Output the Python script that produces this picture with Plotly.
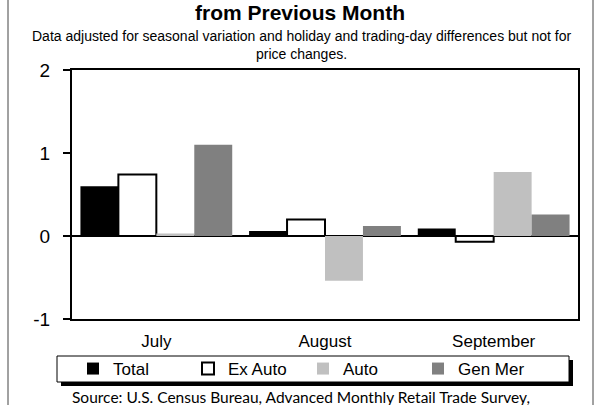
import plotly.graph_objects as go

months = ["July", "August", "September"]
total = [0.60, 0.06, 0.09]
ex_auto = [0.74, 0.20, -0.07]
auto = [0.03, -0.54, 0.77]
gen_mer = [1.10, 0.12, 0.26]
y_ticks = [-1, 0, 1, 2]

W, H = 608, 405
L, R, T, B = 72, 30, 70, 86
pw, ph = W - L - R, H - T - B


def px(x):
    return (x - L) / pw


def py(y):
    return (H - B - y) / ph


fig = go.Figure()
fig.add_bar(name="Total", x=months, y=total, marker=dict(color="black", line=dict(width=0)))
fig.add_bar(name="Ex Auto", x=months, y=ex_auto,
            marker=dict(color="white", line=dict(color="black", width=2)))
fig.add_bar(name="Auto", x=months, y=auto, marker=dict(color="#c0c0c0", line=dict(width=0)))
fig.add_bar(name="Gen Mer", x=months, y=gen_mer, marker=dict(color="#808080", line=dict(width=0)))

shapes = [
    # outer frame
    dict(type="rect", xref="paper", yref="paper", x0=px(8), x1=px(593), y0=py(420), y1=py(-10),
         line=dict(color="#444444", width=1), fillcolor="rgba(0,0,0,0)", layer="below"),
    # legend shadow
    dict(type="rect", xref="paper", yref="paper", x0=px(61), x1=px(573), y0=py(386), y1=py(360),
         line=dict(width=0), fillcolor="black", layer="below"),
    # legend box
    dict(type="rect", xref="paper", yref="paper", x0=px(57), x1=px(569), y0=py(382), y1=py(356),
         line=dict(color="black", width=1), fillcolor="white", layer="below"),
]

annotations = [
    dict(text="<b>from Previous Month</b>", x=px(300), y=py(12), xref="paper", yref="paper",
         showarrow=False, xanchor="center", yanchor="middle",
         font=dict(family="Liberation Sans, Arial", size=21, color="black")),
    dict(text="Data adjusted for seasonal variation and holiday and trading-day differences but not for<br>price changes.",
         x=px(301), y=py(44.5), xref="paper", yref="paper", showarrow=False,
         xanchor="center", yanchor="middle",
         font=dict(family="Liberation Sans, Arial", size=14, color="black")),
    dict(text="Source: U.S. Census Bureau, Advanced Monthly Retail Trade Survey,",
         x=px(301), y=py(397), xref="paper", yref="paper", showarrow=False,
         xanchor="center", yanchor="middle",
         font=dict(family="Lato, Open Sans", size=15.5, color="black")),
]

fig.update_layout(
    width=W, height=H,
    margin=dict(l=L, r=R, t=T, b=B, pad=0),
    paper_bgcolor="white", plot_bgcolor="white",
    barmode="group", bargap=0.1, bargroupgap=0,
    font=dict(family="Liberation Sans, Arial", color="black"),
    showlegend=True,
    legend=dict(orientation="h", x=px(73), y=py(369), xanchor="left", yanchor="middle",
                xref="paper", yref="paper",
                bgcolor="rgba(0,0,0,0)", borderwidth=0,
                font=dict(family="Liberation Sans, Arial", size=17, color="black"),
                entrywidth=70, itemwidth=30, traceorder="normal"),
    shapes=shapes,
    annotations=annotations,
)

fig.update_xaxes(showline=True, linecolor="black", linewidth=2, mirror=True,
                 ticks="", showgrid=False,
                 tickfont=dict(size=17, family="Liberation Sans, Arial", color="black"),
                 ticklabelstandoff=6)
fig.update_yaxes(range=[-1, 2], tickvals=y_ticks, ticktext=[str(v) for v in y_ticks],
                 showline=True, linecolor="black", linewidth=2, mirror=True,
                 ticks="outside", ticklen=7, tickwidth=2, tickcolor="black",
                 showgrid=False, zeroline=True, zerolinecolor="black", zerolinewidth=2,
                 tickfont=dict(size=19, family="Liberation Sans, Arial", color="black"),
                 ticklabelstandoff=9)

fig.write_html("out.html", config={"displayModeBar": False},
               post_script="document.body.style.margin='0';document.body.style.overflow='hidden';")
